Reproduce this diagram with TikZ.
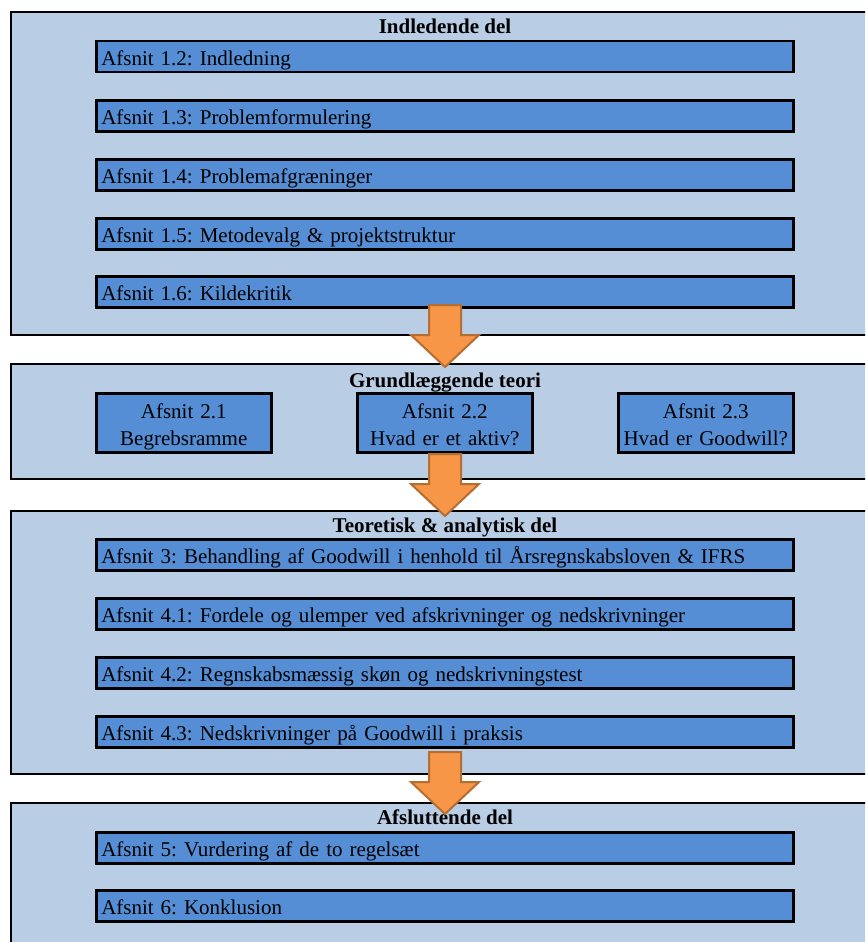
\documentclass[tikz,border=0pt]{standalone}
\usepackage{fontspec}
\setmainfont{Liberation Serif}
\frenchspacing
\definecolor{panelfill}{HTML}{B9CDE5}
\definecolor{boxfill}{HTML}{558ED5}
\definecolor{arrfill}{HTML}{F79646}
\definecolor{arrline}{HTML}{B66D31}
\begin{document}
\begin{tikzpicture}[x=1pt,y=-1pt,
  font=\fontsize{21}{27}\selectfont,
  panel/.style={draw=black, line width=2pt, fill=panelfill, anchor=north west,
    inner sep=0pt, minimum width=870pt},
  wbox/.style={draw=black, line width=2.5pt, fill=boxfill, anchor=north west,
    minimum width=697pt, minimum height=31pt, text width=687pt,
    inner xsep=5pt, inner ysep=0pt, align=left, text height=20pt, text depth=2pt},
  tbox/.style={draw=black, line width=2.5pt, fill=boxfill, anchor=north west,
    minimum width=175pt, minimum height=59pt, text width=171pt,
    inner xsep=2pt, inner ysep=0pt, align=center, text height=20pt, text depth=29pt},
  title/.style={anchor=base, font=\fontsize{21}{27}\selectfont\bfseries, inner sep=0pt},
  bigarrow/.style={draw=arrline, line width=2pt, fill=arrfill, line join=miter},
  downarrow/.pic={\draw[bigarrow] (-16,0) -- (16,0) -- (16,30) -- (34,30) -- (0,62) -- (-34,30) -- (-16,30) -- cycle;}
]
\useasboundingbox (0,0) rectangle (865,942);
\clip (0,0) rectangle (865,942);
\fill[white] (0,0) rectangle (865,942);

% panels
\node[panel, minimum height=323pt] (p1) at (10,11) {};
\node[panel, minimum height=115pt] (p2) at (10,363) {};
\node[panel, minimum height=263pt] (p3) at (10,510) {};
\node[panel, minimum height=160pt] (p4) at (10,802) {};

% panel 1
\node[title] (t1) at (445,34) {Indledende del};
\node[wbox] (b12) at (95,40) {Afsnit 1.2: Indledning};
\node[wbox] (b13) at (95,99) {Afsnit 1.3: Problemformulering};
\node[wbox] (b14) at (95,158) {Afsnit 1.4: Problemafgræninger};
\node[wbox] (b15) at (95,217) {Afsnit 1.5: Metodevalg \& projektstruktur};
\node[wbox] (b16) at (95,275) {Afsnit 1.6: Kildekritik};

% panel 2
\node[title] (t2) at (445,387) {Grundlæggende teori};
\node[tbox] (b21) at (95,392) {Afsnit 2.1\\Begrebsramme};
\node[tbox] (b22) at (356,392) {Afsnit 2.2\\Hvad er et aktiv?};
\node[tbox] (b23) at (617,392) {Afsnit 2.3\\Hvad er Goodwill?};

% panel 3
\node[title] (t3) at (445,532) {Teoretisk \& analytisk del};
\node[wbox] (b3) at (95,538) {Afsnit 3: Behandling af Goodwill i henhold til Årsregnskabsloven \& IFRS};
\node[wbox] (b41) at (95,597) {Afsnit 4.1: Fordele og ulemper ved afskrivninger og nedskrivninger};
\node[wbox] (b42) at (95,656) {Afsnit 4.2: Regnskabsmæssig skøn og nedskrivningstest};
\node[wbox] (b43) at (95,715) {Afsnit 4.3: Nedskrivninger på Goodwill i praksis};

% panel 4
\node[title] (t4) at (445,824) {Afsluttende del};
\node[wbox] (b5) at (95,831) {Afsnit 5: Vurdering af de to regelsæt};
\node[wbox] (b6) at (95,889) {Afsnit 6: Konklusion};

% arrows
\coordinate (a1) at (445,305);
\coordinate (a2) at (445,454);
\coordinate (a3) at (445,752);
\pic at (a1) {downarrow};
\pic at (a2) {downarrow};
\pic at (a3) {downarrow};
\end{tikzpicture}
\end{document}
